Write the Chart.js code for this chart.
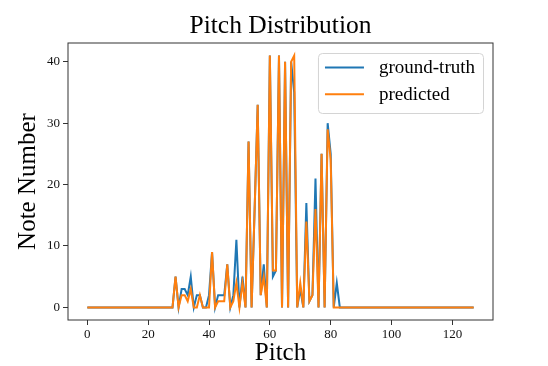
<!DOCTYPE html>
<html>
<head>
<meta charset="utf-8">
<title>Pitch Distribution</title>
<script src="https://cdn.jsdelivr.net/npm/chart.js@4.4.1/dist/chart.umd.min.js"></script>
<style>
  html, body { margin: 0; padding: 0; background: #fff; }
  canvas { display: block; }
</style>
</head>
<body>
<canvas id="pitchChart" width="548" height="366"></canvas>
<script>
// MIDI pitch 0..127 on the x axis
const pitches = Array.from({ length: 128 }, (_, i) => i);

const groundTruth = [
  0, 0, 0, 0, 0, 0, 0, 0, 0, 0, 0, 0, 0, 0, 0, 0,
  0, 0, 0, 0, 0, 0, 0, 0, 0, 0, 0, 0, 0, 5, 0, 3,
  3, 2, 5, 0, 2, 2, 0, 0, 2, 9, 0, 2, 2, 2, 7, 0,
  2, 11, 0, 5, 0, 27, 0, 16, 33, 2, 7, 0, 41, 5, 6, 41,
  0, 40, 0, 40, 35, 0, 3, 0, 17, 1, 2, 21, 0, 25, 0, 30,
  25, 0, 4, 0, 0, 0, 0, 0, 0, 0, 0, 0, 0, 0, 0, 0,
  0, 0, 0, 0, 0, 0, 0, 0, 0, 0, 0, 0, 0, 0, 0, 0,
  0, 0, 0, 0, 0, 0, 0, 0, 0, 0, 0, 0, 0, 0, 0, 0
];

const predicted = [
  0, 0, 0, 0, 0, 0, 0, 0, 0, 0, 0, 0, 0, 0, 0, 0,
  0, 0, 0, 0, 0, 0, 0, 0, 0, 0, 0, 0, 0, 5, 0, 2,
  2, 1, 3, 0, 0, 2, 0, 0, 0, 9, 0, 1, 1, 1, 7, 0,
  1, 4, 0, 4, 0, 27, 0, 16, 33, 2, 5, 0, 41, 6, 6, 41,
  0, 40, 0, 40, 41, 0, 4, 0, 14, 1, 2, 16, 0, 25, 0, 29,
  24, 0, 0, 0, 0, 0, 0, 0, 0, 0, 0, 0, 0, 0, 0, 0,
  0, 0, 0, 0, 0, 0, 0, 0, 0, 0, 0, 0, 0, 0, 0, 0,
  0, 0, 0, 0, 0, 0, 0, 0, 0, 0, 0, 0, 0, 0, 0, 0
];

const xTicks = [0, 20, 40, 60, 80, 100, 120];
const yTicks = [0, 10, 20, 30, 40];

const serif = '"Liberation Serif", "DejaVu Serif", serif';

// box round the plot area (all four sides, like matplotlib)
const frame = {
  id: "frame",
  afterDatasetsDraw(chart) {
    const { ctx, chartArea: a } = chart;
    ctx.save();
    ctx.strokeStyle = "#333";
    ctx.lineWidth = 1;
    ctx.strokeRect(a.left, a.top, a.right - a.left, a.bottom - a.top);
    ctx.restore();
  }
};

// legend inside the upper right corner
const innerLegend = {
  id: "innerLegend",
  afterDraw(chart) {
    const { ctx, chartArea: a } = chart;
    const sets = chart.data.datasets;
    ctx.save();
    ctx.font = "19px " + serif;
    const textW = Math.max(...sets.map(d => ctx.measureText(d.label).width));
    const w = 7 + 39 + 15 + textW + 8;
    const h = 60;
    const x = a.right - 10 - w;
    const y = a.top + 10;

    ctx.beginPath();
    ctx.roundRect(x + 0.5, y + 0.5, w, h, 4);
    ctx.fillStyle = "rgba(255,255,255,0.8)";
    ctx.fill();
    ctx.strokeStyle = "#d4d4d4";
    ctx.lineWidth = 1;
    ctx.stroke();

    sets.forEach((d, i) => {
      const ry = y + 14.5 + i * 26.7;
      ctx.beginPath();
      ctx.moveTo(x + 7, ry);
      ctx.lineTo(x + 46, ry);
      ctx.strokeStyle = d.borderColor;
      ctx.lineWidth = 2;
      ctx.stroke();
      ctx.fillStyle = "#000";
      ctx.textBaseline = "middle";
      ctx.fillText(d.label, x + 61, ry + 1);
    });
    ctx.restore();
  }
};

const ctx = document.getElementById("pitchChart").getContext("2d");
new Chart(ctx, {
  type: "line",
  data: {
    datasets: [
      {
        label: "ground-truth",
        data: pitches.map((p, i) => ({ x: p, y: groundTruth[i] })),
        borderColor: "#1f77b4",
        borderWidth: 2,
        pointRadius: 0,
        tension: 0,
        order: 1
      },
      {
        label: "predicted",
        data: pitches.map((p, i) => ({ x: p, y: predicted[i] })),
        borderColor: "#ff7f0e",
        borderWidth: 2,
        pointRadius: 0,
        tension: 0,
        order: 0
      }
    ]
  },
  options: {
    responsive: false,
    animation: false,
    layout: { padding: { top: 0, left: 0, right: 55, bottom: 0 } },
    plugins: {
      legend: { display: false },
      tooltip: { enabled: false },
      title: {
        display: true,
        text: "Pitch Distribution",
        color: "#000",
        fullSize: false,
        font: { family: serif, size: 25.5, weight: "normal", lineHeight: 1 },
        padding: { top: 14, bottom: 3.5 }
      }
    },
    scales: {
      x: {
        type: "linear",
        min: -6.35,
        max: 133.35,
        afterBuildTicks: axis => { axis.ticks = xTicks.map(v => ({ value: v })); },
        afterFit: axis => { axis.height = 46; },
        grid: { drawOnChartArea: false, tickLength: 5, color: "#333" },
        border: { display: false },
        ticks: {
          color: "#111",
          padding: 2,
          maxRotation: 0,
          font: { family: serif, size: 13 }
        },
        title: {
          display: true,
          text: "Pitch",
          color: "#000",
          font: { family: serif, size: 25, lineHeight: 1 },
          padding: { top: 0, bottom: 0 }
        }
      },
      y: {
        min: -2.05,
        max: 43.05,
        afterBuildTicks: axis => { axis.ticks = yTicks.map(v => ({ value: v })); },
        afterFit: axis => { axis.width = 68; },
        grid: { drawOnChartArea: false, tickLength: 5, color: "#333" },
        border: { display: false },
        ticks: {
          color: "#111",
          padding: 3,
          font: { family: serif, size: 13 }
        },
        title: {
          display: true,
          text: "Note Number",
          color: "#000",
          font: { family: serif, size: 25, lineHeight: 1 },
          padding: { top: 16, bottom: 0 }
        }
      }
    }
  },
  plugins: [frame, innerLegend]
});
</script>
</body>
</html>
